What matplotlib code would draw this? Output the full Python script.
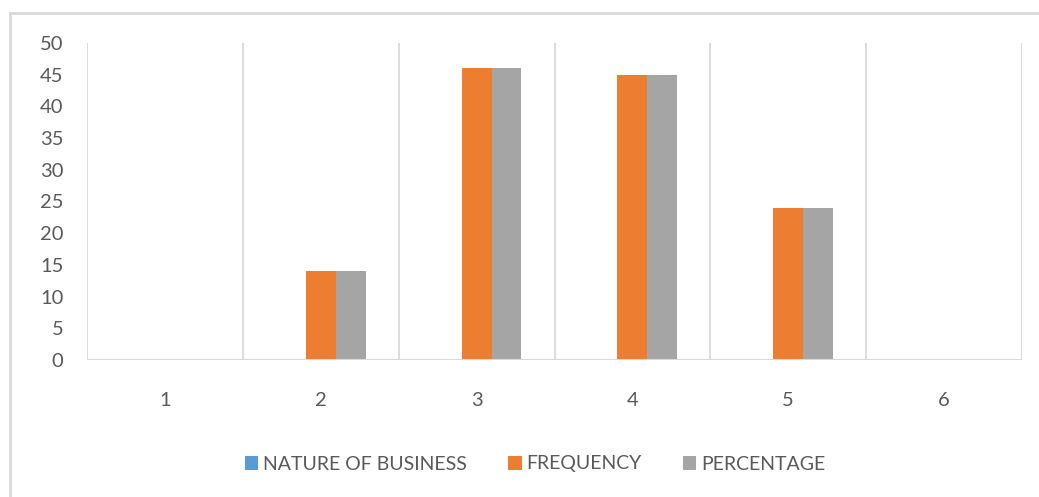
import matplotlib
matplotlib.use("Agg")
import matplotlib.pyplot as plt
import numpy as np
from matplotlib.lines import Line2D
from matplotlib.patches import Patch

categories = ["1", "2", "3", "4", "5", "6"]
nature_of_business = [0, 0, 0, 0, 0, 0]
frequency = [0, 14, 46, 45, 24, 0]
percentage = [0, 14, 46, 45, 24, 0]

series_names = ["NATURE OF BUSINESS", "FREQUENCY", "PERCENTAGE"]
colors = ["#5b9bd5", "#ed7d31", "#a5a5a5"]
text_color = "#595959"
grid_color = "#d9d9d9"

plt.rcParams["font.family"] = ["Lato", "DejaVu Sans"]

fig = plt.figure(figsize=(10.39, 4.97), dpi=100)
ax = fig.add_axes([87 / 1039, 137 / 497, 935 / 1039, 317 / 497])

x = np.arange(len(categories))
w = 0.192
for i, vals in enumerate([nature_of_business, frequency, percentage]):
    ax.bar(x + (i - 1) * w, vals, width=w, color=colors[i], zorder=3)

ax.set_xlim(-0.5, len(categories) - 0.5)
ax.set_ylim(0, 50)
ax.set_yticks(range(0, 51, 5))
ax.set_xticks(x)
ax.set_xticklabels(categories)

# category separators as vertical gridlines
for b in np.arange(-0.5, len(categories), 1.0):
    ax.axvline(b, color=grid_color, lw=1.3, zorder=1)

for s in ax.spines.values():
    s.set_visible(False)
ax.axhline(0, color=grid_color, lw=1.5, zorder=4)

ax.tick_params(axis="both", length=0, colors=text_color, labelsize=14.5)
ax.tick_params(axis="x", pad=23)
ax.tick_params(axis="y", pad=17)
for lbl in ax.get_yticklabels() + ax.get_xticklabels():
    lbl.set_color(text_color)

handles = [Patch(facecolor=c, edgecolor="none") for c in colors]
leg = fig.legend(handles, series_names, loc="center", bbox_to_anchor=(535 / 1039, 1 - 464 / 497),
                 ncol=3, frameon=False, fontsize=14, handlelength=0.7, handleheight=0.7,
                 handletextpad=0.25, columnspacing=2.1)
for t in leg.get_texts():
    t.set_color(text_color)

# outer chart frame (top and left edges visible in the crop)
fig.add_artist(Line2D([10 / 1039, 1.0], [1 - 13 / 497, 1 - 13 / 497], color=grid_color, lw=2,
                      transform=fig.transFigure))
fig.add_artist(Line2D([10 / 1039, 10 / 1039], [0.0, 1 - 13 / 497], color=grid_color, lw=2,
                      transform=fig.transFigure))

fig.savefig("out.png", dpi=100)
